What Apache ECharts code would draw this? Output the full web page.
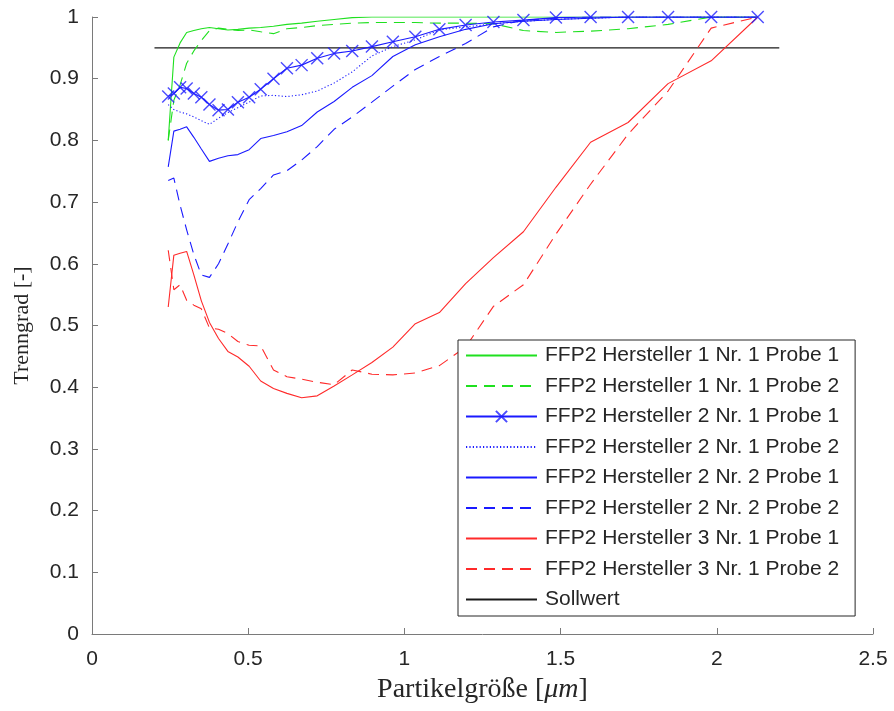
<!DOCTYPE html>
<html>
<head>
<meta charset="utf-8">
<script src="https://cdn.jsdelivr.net/npm/echarts@6/dist/echarts.min.js"></script>
<style>
html,body{margin:0;padding:0;background:#fff;}
#chart{width:894px;height:711px;}
</style>
</head>
<body>
<div id="chart"></div>
<script>
// Particle size grid [µm]
const particleSize = [0.244, 0.262, 0.282, 0.303, 0.326, 0.350, 0.376, 0.405, 0.435, 0.467, 0.503, 0.540, 0.581, 0.624, 0.671, 0.721, 0.775, 0.833, 0.896, 0.963, 1.035, 1.112, 1.196, 1.285, 1.381, 1.485, 1.596, 1.716, 1.844, 1.982, 2.131];

const h1n1p1 = [0.800, 0.935, 0.958, 0.975, 0.978, 0.981, 0.983, 0.981, 0.979, 0.980, 0.982, 0.983, 0.985, 0.988, 0.990, 0.993, 0.996, 0.999, 1, 1, 1, 1, 1, 1, 1, 1, 1, 1, 1, 1, 1];
const h1n1p2 = [0.800, 0.865, 0.890, 0.925, 0.945, 0.962, 0.978, 0.982, 0.980, 0.978, 0.979, 0.976, 0.973, 0.981, 0.983, 0.986, 0.988, 0.990, 0.991, 0.991, 0.991, 0.990, 0.990, 0.989, 0.978, 0.975, 0.977, 0.981, 0.988, 1, 1];
const h2n1p1 = [0.871, 0.876, 0.886, 0.884, 0.876, 0.870, 0.858, 0.849, 0.850, 0.862, 0.870, 0.883, 0.900, 0.917, 0.922, 0.933, 0.941, 0.945, 0.952, 0.960, 0.968, 0.980, 0.987, 0.992, 0.995, 0.999, 1, 1, 1, 1, 1];
const h2n1p2 = [0.858, 0.850, 0.846, 0.843, 0.838, 0.832, 0.826, 0.836, 0.845, 0.853, 0.862, 0.872, 0.873, 0.871, 0.874, 0.880, 0.893, 0.911, 0.937, 0.952, 0.963, 0.979, 0.984, 0.989, 0.993, 0.996, 0.998, 1, 1, 1, 1];
const h2n2p1 = [0.757, 0.815, 0.818, 0.822, 0.805, 0.786, 0.766, 0.771, 0.775, 0.777, 0.785, 0.803, 0.808, 0.814, 0.824, 0.846, 0.863, 0.886, 0.905, 0.936, 0.955, 0.968, 0.980, 0.989, 0.993, 0.996, 0.998, 1, 1, 1, 1];
const h2n2p2 = [0.735, 0.739, 0.695, 0.655, 0.615, 0.582, 0.578, 0.600, 0.632, 0.668, 0.704, 0.722, 0.744, 0.751, 0.768, 0.790, 0.818, 0.838, 0.862, 0.888, 0.915, 0.936, 0.957, 0.984, 0.995, 0.998, 1, 1, 1, 1, 1];
const h3n1p1 = [0.530, 0.614, 0.617, 0.620, 0.582, 0.540, 0.505, 0.479, 0.458, 0.449, 0.434, 0.410, 0.398, 0.390, 0.383, 0.386, 0.402, 0.420, 0.440, 0.465, 0.503, 0.521, 0.568, 0.610, 0.652, 0.724, 0.797, 0.829, 0.892, 0.929, 1.0];
const h3n1p2 = [0.622, 0.558, 0.566, 0.541, 0.533, 0.527, 0.496, 0.494, 0.487, 0.474, 0.468, 0.467, 0.428, 0.417, 0.413, 0.408, 0.404, 0.428, 0.421, 0.420, 0.423, 0.435, 0.465, 0.531, 0.566, 0.648, 0.729, 0.810, 0.880, 0.982, 1.0];
const sollwertX = [0.2, 2.2];
const sollwertY = [0.95, 0.95];

const names = [
  'FFP2 Hersteller 1 Nr. 1 Probe 1',
  'FFP2 Hersteller 1 Nr. 1 Probe 2',
  'FFP2 Hersteller 2 Nr. 1 Probe 1',
  'FFP2 Hersteller 2 Nr. 1 Probe 2',
  'FFP2 Hersteller 2 Nr. 2 Probe 1',
  'FFP2 Hersteller 2 Nr. 2 Probe 2',
  'FFP2 Hersteller 3 Nr. 1 Probe 1',
  'FFP2 Hersteller 3 Nr. 1 Probe 2',
  'Sollwert'
];
const xTicks = [0, 0.5, 1, 1.5, 2, 2.5];
const yTicks = [0, 0.1, 0.2, 0.3, 0.4, 0.5, 0.6, 0.7, 0.8, 0.9, 1];

const GREEN = '#1fe01f', BLUE = '#1a1aff', RED = '#ff2a2a', BLACK = '#1a1a1a';
const DASH = [11, 7], DOT = [1.2, 2.2];

function pts(ys) { return particleSize.map((x, i) => [x, ys[i]]); }
function mk(name, ys, color, type, extra) {
  return Object.assign({
    name: name, type: 'line', data: pts(ys), symbol: 'none',
    color: color,
    lineStyle: { color: color, width: 1.1, type: type },
    itemStyle: { color: color },
    animation: false, z: 3
  }, extra || {});
}

const series = [
  mk(names[0], h1n1p1, GREEN, 'solid'),
  mk(names[1], h1n1p2, GREEN, DASH),
  mk(names[2], h2n1p1, BLUE, 'solid', {
    symbol: 'path://M0,0L10,10M10,0L0,10', symbolSize: 12, showSymbol: true,
    itemStyle: { color: BLUE, borderColor: 'rgba(30,30,255,0.8)', borderWidth: 1.4 }
  }),
  mk(names[3], h2n1p2, BLUE, DOT),
  mk(names[4], h2n2p1, BLUE, 'solid'),
  mk(names[5], h2n2p2, BLUE, DASH),
  mk(names[6], h3n1p1, RED, 'solid'),
  mk(names[7], h3n1p2, RED, DASH),
  {
    name: names[8], type: 'line', symbol: 'none', color: BLACK,
    data: sollwertX.map((x, i) => [x, sollwertY[i]]),
    lineStyle: { color: BLACK, width: 1.1 }, itemStyle: { color: BLACK }, animation: false, z: 2
  }
];

const legendData = names.map((n, i) => i === 2 ? { name: n } : { name: n, itemStyle: { opacity: 0 } });

const chart = echarts.init(document.getElementById('chart'), null, { renderer: 'canvas' });
const axisCol = '#7a7a7a', txtCol = '#262626';
const serif = 'Liberation Serif, DejaVu Serif, serif';
chart.setOption({
  backgroundColor: '#fff',
  animation: false,
  grid: { left: 92, right: 21, top: 17, bottom: 77, containLabel: false, outerBoundsMode: 'none' },
  xAxis: {
    type: 'value', min: xTicks[0], max: xTicks[xTicks.length - 1], interval: 0.5,
    name: '{a|Partikelgröße [}{b|μm}{a|]}', nameLocation: 'middle', nameGap: 42,
    nameTextStyle: {
      rich: {
        a: { fontFamily: serif, fontSize: 28, color: txtCol },
        b: { fontFamily: serif, fontSize: 28, fontStyle: 'italic', color: txtCol }
      }
    },
    axisLine: { show: true, lineStyle: { color: axisCol, width: 1 } },
    axisTick: { show: true, inside: true, length: 6, lineStyle: { color: axisCol } },
    axisLabel: { margin: 15, fontSize: 21, color: txtCol, fontFamily: 'Liberation Sans, Arial, sans-serif',
      formatter: v => String(+v.toFixed(1)) },
    splitLine: { show: false }
  },
  yAxis: {
    type: 'value', min: yTicks[0], max: yTicks[yTicks.length - 1], interval: 0.1,
    name: 'Trenngrad [-]', nameLocation: 'middle', nameGap: 59, nameRotate: 90,
    nameTextStyle: { fontFamily: serif, fontSize: 22, color: txtCol },
    axisLine: { show: true, lineStyle: { color: axisCol, width: 1 } },
    axisTick: { show: true, inside: true, length: 6, lineStyle: { color: axisCol } },
    axisLabel: { margin: 13, fontSize: 21, color: txtCol, fontFamily: 'Liberation Sans, Arial, sans-serif',
      formatter: v => String(+v.toFixed(1)) },
    splitLine: { show: false }
  },
  legend: {
    orient: 'vertical', left: 458, top: 340,
    data: legendData,
    itemWidth: 71, itemHeight: 14, itemGap: 9.5,
    padding: [5, 16, 6, 7],
    borderColor: '#262626', borderWidth: 1, backgroundColor: '#fff',
    textStyle: { fontSize: 21, lineHeight: 20, color: txtCol, fontFamily: 'Liberation Sans, Arial, sans-serif', padding: [0, 0, 0, 3] },
    selectedMode: false
  },
  series: series
});
</script>
</body>
</html>
